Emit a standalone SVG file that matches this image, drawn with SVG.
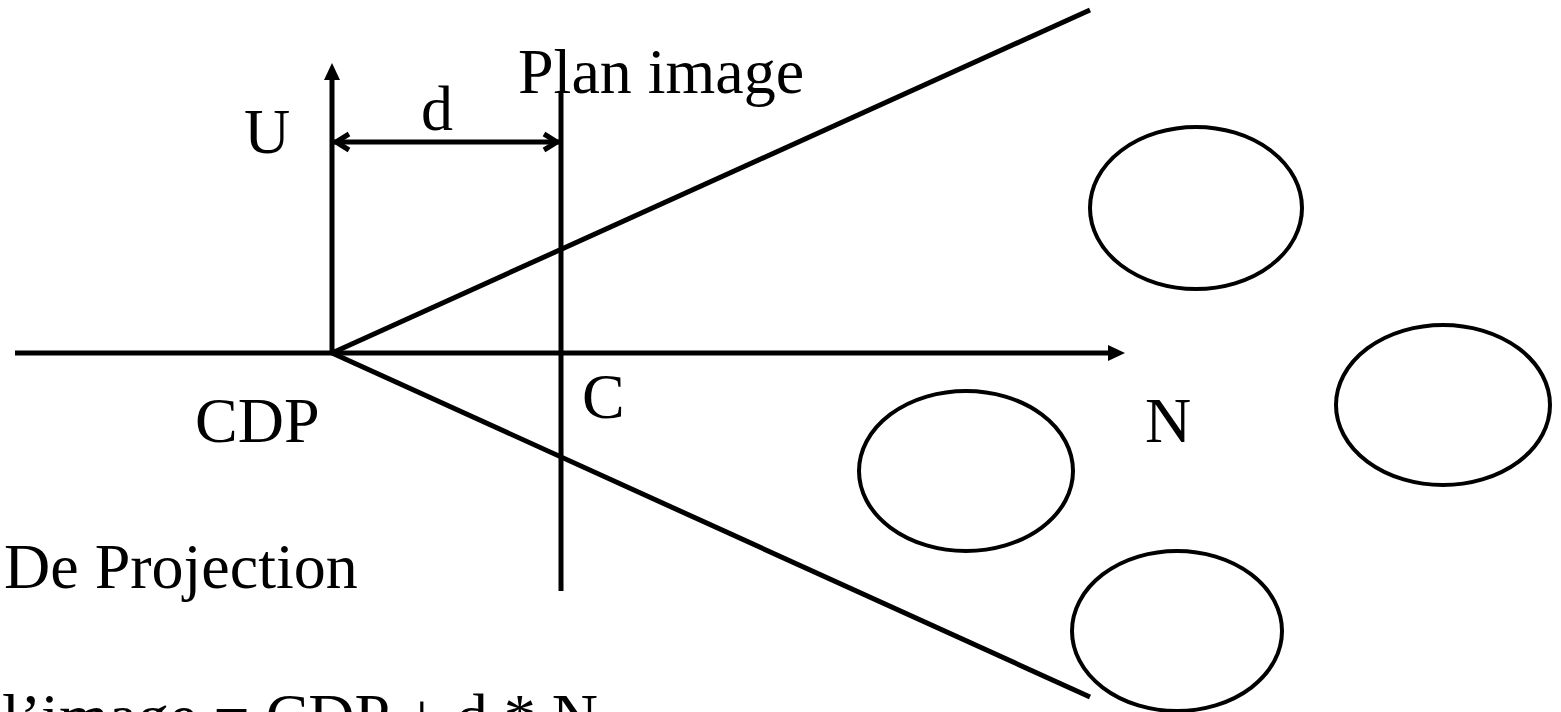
<svg xmlns="http://www.w3.org/2000/svg" width="1561" height="712" viewBox="0 0 1561 712">
<style>
.ln{stroke:#000;stroke-width:5;fill:none}
.el{stroke:#000;stroke-width:4;fill:#fff}
.t{font-family:"Liberation Serif","Times New Roman",serif;font-size:64px;fill:#000}
</style>
<defs>
<marker id="tri" viewBox="0 0 17 16" refX="0" refY="8" markerWidth="17" markerHeight="16" markerUnits="userSpaceOnUse" orient="auto"><path d="M0,0L17,8L0,16z" fill="#000"/></marker>
</defs>
<rect width="1561" height="712" fill="#fff"/>
<g id="connectors">
<line class="ln" x1="15" y1="353" x2="1108" y2="353" marker-end="url(#tri)"/>
<line class="ln" x1="332" y1="353" x2="332" y2="80" marker-end="url(#tri)"/>
<line class="ln" x1="561" y1="93" x2="561" y2="591"/>
<line class="ln" x1="332" y1="353" x2="1090" y2="10"/>
<line class="ln" x1="332" y1="353" x2="1090" y2="697"/>
<g id="d-arrow">
<line class="ln" x1="334" y1="142" x2="559" y2="142"/>
<polyline class="ln" points="349,134 336,142 349,150"/>
<polyline class="ln" points="544,134 557,142 544,150"/>
</g>
</g>
<g id="obj1"><ellipse class="el" cx="1196" cy="208" rx="106" ry="81"/></g>
<g id="obj2"><ellipse class="el" cx="1443" cy="405" rx="107" ry="80"/></g>
<g id="obj3"><ellipse class="el" cx="966" cy="471" rx="107" ry="80"/></g>
<g id="obj4"><ellipse class="el" cx="1177" cy="631" rx="105" ry="80"/></g>
<g id="labels">
<text class="t" x="518" y="93">Plan image</text>
<text class="t" x="244" y="153">U</text>
<text class="t" x="421" y="130">d</text>
<text class="t" x="195" y="442">CDP</text>
<text class="t" x="582" y="418">C</text>
<text class="t" x="1145" y="442">N</text>
<text class="t" x="4" y="588">De Projection</text>
<text class="t" x="2" y="738">l’image = CDP + d * N</text>
</g>
</svg>
